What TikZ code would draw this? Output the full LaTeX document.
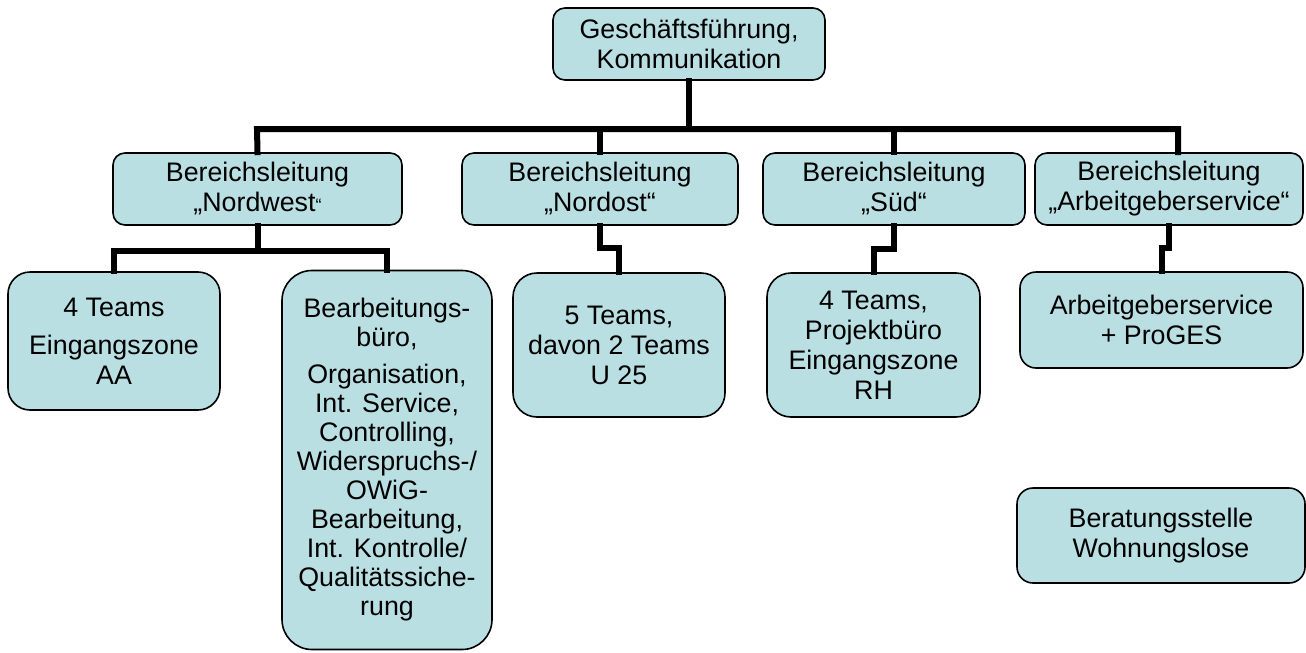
\documentclass[tikz,border=0pt]{standalone}
\usepackage{fontspec}
\setmainfont{Liberation Sans}
\definecolor{boxfill}{HTML}{B9DFE3}
\tikzset{
  orgbox/.style={draw=black, line width=0.8pt, fill=boxfill, align=center, inner sep=0pt,
    font=\fontsize{13.4}{15}\selectfont},
  conn/.style={draw=black, line width=3pt, line join=miter, line cap=rect}
}
\newcommand{\cq}{{\fontsize{9}{9}\selectfont“}}
\begin{document}
\begin{tikzpicture}[x=0.5pt,y=-0.5pt]
\useasboundingbox (0,0) rectangle (1306,653);
% top level
\node[orgbox, rounded corners=6pt, minimum width=136pt, minimum height=36pt] (top) at (689,44) {Geschäftsführung,\\Kommunikation};
% second level
\node[orgbox, rounded corners=6pt, minimum width=144.5pt, minimum height=36pt] (nw) at (257.5,189) {Bereichsleitung\\„Nordwest\cq};
\node[orgbox, rounded corners=6pt, minimum width=138pt, minimum height=36pt] (no) at (600,189) {Bereichsleitung\\„Nordost“};
\node[orgbox, rounded corners=6pt, minimum width=131pt, minimum height=36pt] (sued) at (894,189) {Bereichsleitung\\„Süd“};
\node[orgbox, rounded corners=6pt, minimum width=134pt, minimum height=36pt] (ag) at (1169,189) {Bereichsleitung\\„Arbeitgeberservice“};
% third level
\node[orgbox, rounded corners=11pt, minimum width=106pt, minimum height=69pt] (t4) at (114,341) {4 Teams\\[4pt]Eingangszone\\AA};
\node[orgbox, rounded corners=15pt, minimum width=105pt, minimum height=189.5pt, font=\fontsize{13.4}{14.5}\selectfont] (bb) at (387,460) {Bearbeitungs-\\büro,\\[4pt]Organisation,\\Int. Service,\\Controlling,\\Widerspruchs-/\\OWiG-\\Bearbeitung,\\Int. Kontrolle/\\Qualitätssiche-\\rung};
\node[orgbox, rounded corners=12pt, minimum width=106pt, minimum height=72pt] (t5) at (619,345) {5 Teams,\\davon 2 Teams\\U 25};
\node[orgbox, rounded corners=12pt, minimum width=106.5pt, minimum height=72pt] (tp) at (873.5,345) {4 Teams,\\Projektbüro\\Eingangszone\\RH};
\node[orgbox, rounded corners=8pt, minimum width=141.5pt, minimum height=48pt] (ags) at (1161.5,320) {Arbeitgeberservice\\+ ProGES};
\node[orgbox, rounded corners=8pt, minimum width=144pt, minimum height=47.5pt] (ber) at (1161,535.5) {Beratungsstelle\\Wohnungslose};
% connectors
\coordinate (busL) at (257,129);
\coordinate (busR) at (1178,129);
\draw[conn] (nw.north) -- (busL) -- (busR) -- (busR |- ag.north);
\draw[conn] (top.south) -- (top.south |- busL);
\draw[conn] (no.north) -- (no.north |- busL);
\draw[conn] (sued.north) -- (sued.north |- busL);
\draw[conn] (nw.south) -- ++(0,25) coordinate (nwb);
\draw[conn] (t4.north) |- (nwb) -| (bb.north);
\draw[conn] (no.south) -- ++(0,22) -| (t5.north);
\draw[conn] (sued.south) -- ++(0,23) -| (tp.north);
\draw[conn] (ag.south) -- ++(0,22) -| (ags.north);
\end{tikzpicture}
\end{document}
